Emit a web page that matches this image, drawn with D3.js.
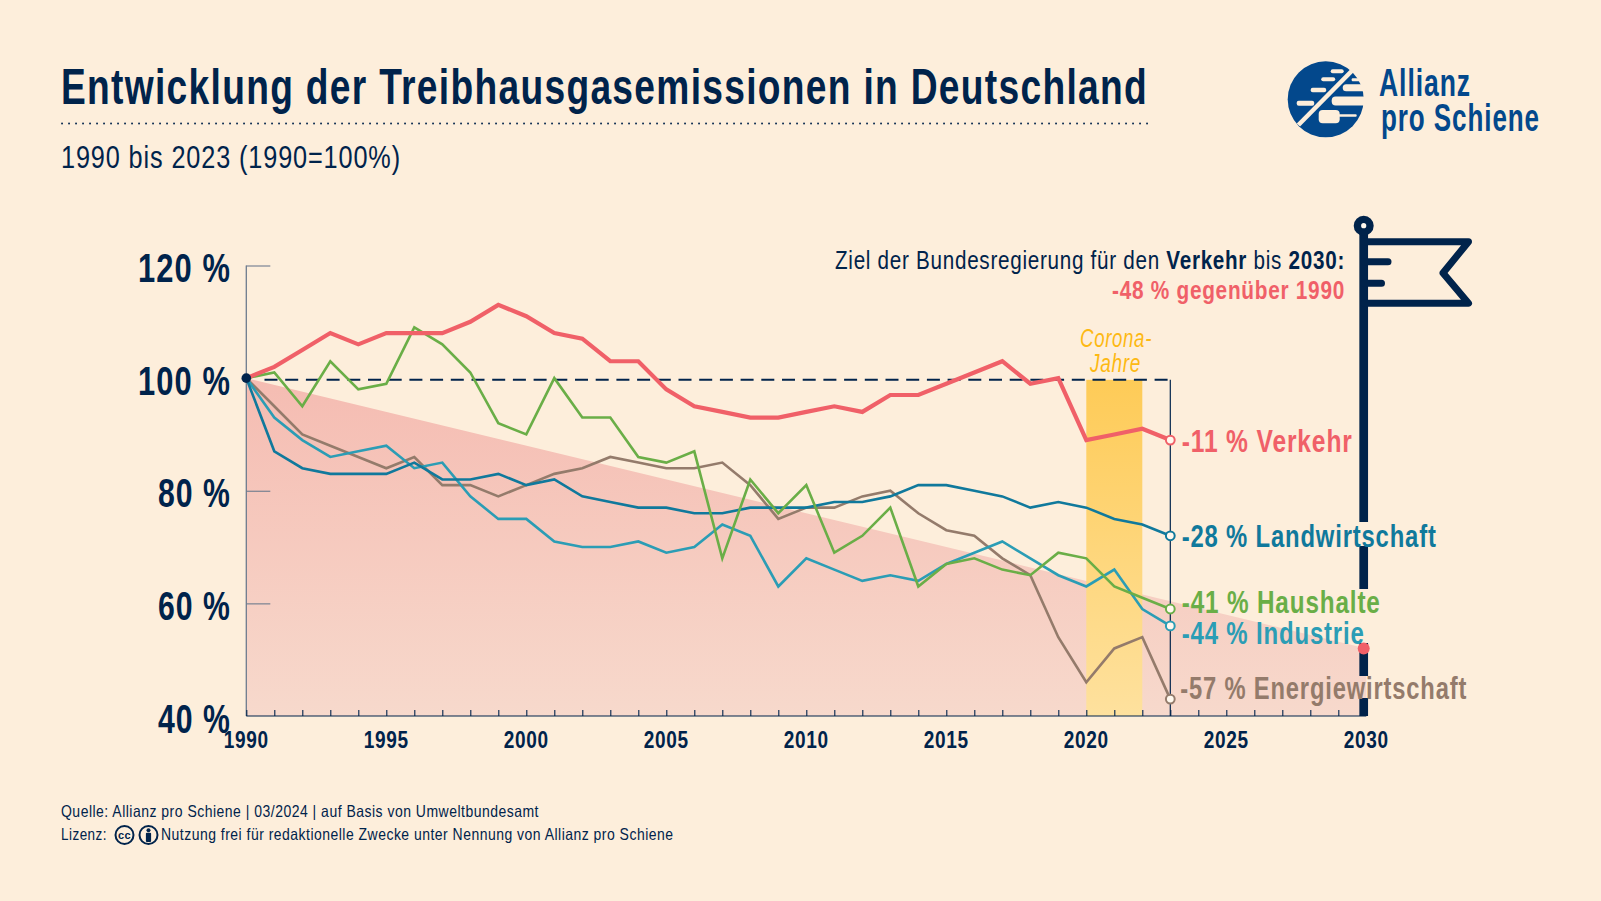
<!DOCTYPE html>
<html>
<head>
<meta charset="utf-8">
<script src="https://cdn.jsdelivr.net/npm/d3@7"></script>
<style>
  html, body { margin: 0; padding: 0; background: #fdeedb; }
  svg { display: block; }
  text { font-family: "Liberation Sans Narrow", "Liberation Sans", sans-serif; letter-spacing: 0.035em; }
</style>
</head>
<body>
<script>
//values
var years = d3.range(1990, 2024);
var verkehr = [100,102,105,108,106,108,108,108,110,113,111,108,107,103,103,98,95,94,93,93,94,95,94,97,97,99,101,103,99,100,89,90,91,89];
var haushalte = [100,101,95,103,98,99,109,106,101,92,90,100,93,93,86,85,87,68,82,76,81,69,72,77,63,67,68,66,65,69,68,63,61,59];
var landwirtschaft = [100,87,84,83,83,83,85,82,82,83,81,82,79,78,77,77,76,76,77,77,77,78,78,79,81,81,80,79,77,78,77,75,74,72];
var industrie = [100,93,89,86,87,88,84,85,79,75,75,71,70,70,71,69,70,74,72,63,68,66,64,65,64,67,69,71,68,65,63,66,59,56];
var energie = [100,95,90,88,86,84,86,81,81,79,81,83,84,86,85,84,84,85,81,75,77,77,79,80,76,73,72,68,65,54,46,52,54,43];
var targetYears = [1990, 2030];
var targetValues = [100, 52];
var yTicks = [40, 60, 80, 100, 120];
var xTicks = [1990, 1995, 2000, 2005, 2010, 2015, 2020, 2025, 2030];
var coronaYears = [2020, 2022];

var navy = "#00234b", red = "#f06068", teal = "#10799c", green = "#6aae47", cyan = "#2b9db5", brown = "#947b6b";
var amber = "#fdb913", blue = "#03488c", paper = "#fdeedb";

//name, values, colour, line width, label width, label y offset
var seriesList = [
  {name: "-57 % Energiewirtschaft", values: energie, color: brown, w: 2.6, lw: 287, dy: -10, dx: -1.5},
  {name: "-44 % Industrie", values: industrie, color: cyan, w: 2.6, lw: 183, dy: 8.5, dx: 0},
  {name: "-28 % Landwirtschaft", values: landwirtschaft, color: teal, w: 2.6, lw: 255, dy: 1, dx: 0},
  {name: "-41 % Haushalte", values: haushalte, color: green, w: 2.6, lw: 199, dy: -6, dx: 0},
  {name: "-11 % Verkehr", values: verkehr, color: red, w: 4.2, lw: 171, dy: 2, dx: 0}
];

var svg = d3.select("body").append("svg")
    .attr("width", 1601)
    .attr("height", 901)
    .style("background-color", paper);

var defs = svg.append("defs");
var areaGrad = defs.append("linearGradient").attr("id", "areaGrad")
    .attr("x1", 0).attr("x2", 0).attr("y1", 0).attr("y2", 1);
areaGrad.append("stop").attr("offset", "0%").attr("stop-color", "#f5bcb2");
areaGrad.append("stop").attr("offset", "100%").attr("stop-color", "#f7d9cc");
var coronaGrad = defs.append("linearGradient").attr("id", "coronaGrad")
    .attr("x1", 0).attr("x2", 0).attr("y1", 0).attr("y2", 1);
coronaGrad.append("stop").attr("offset", "0%").attr("stop-color", "#fecb57");
coronaGrad.append("stop").attr("offset", "100%").attr("stop-color", "#fee19e");

//scales
var x = d3.scaleLinear().domain([1990, 2030]).range([246.3, 1366.3]);
var y = d3.scaleLinear().domain([40, 120]).range([716, 265.5]);

//text with a fixed width so the narrow font fits the original lettering
function label(px, py, str, size, weight, color, anchor, width) {
  var t = svg.append("text")
      .attr("x", px).attr("y", py)
      .attr("font-size", size)
      .attr("font-weight", weight)
      .attr("fill", color)
      .attr("text-anchor", anchor || "start")
      .text(str);
  if (width) t.attr("textLength", width).attr("lengthAdjust", "spacingAndGlyphs");
  return t;
}

//title block
label(61, 104, "Entwicklung der Treibhausgasemissionen in Deutschland", 50, 700, navy, "start", 1087);
svg.append("line").attr("x1", 62).attr("x2", 1148).attr("y1", 123.5).attr("y2", 123.5)
    .attr("stroke", navy).attr("stroke-width", 1.8).attr("stroke-dasharray", "0.1 6.9").attr("stroke-linecap", "round");
label(61, 168, "1990 bis 2023 (1990=100%)", 31, 400, navy, "start", 340);

//logo
var logo = svg.append("g").attr("transform", "translate(1325.7,99.3)");
logo.append("circle").attr("r", 38).attr("fill", blue);
//stripes left of the diagonal
[[5,-30,13,4],[-4.5,-22,14,4],[-15,-11.5,15.5,4.5],[-29,1.5,17.5,5]].forEach(function(d) {
  logo.append("rect").attr("x", d[0]).attr("y", d[1]).attr("width", d[2]).attr("height", d[3])
      .attr("rx", 2).attr("fill", paper);
});
//cloud shaped cuts right of the diagonal
[[26,-21,12,3,1],[17,-15,24,7,3.5],[6,-2.7,35,9,4],[-7,10.7,21,13.3,4],[13,15,18,2.4,1]].forEach(function(d) {
  logo.append("rect").attr("x", d[0]).attr("y", d[1]).attr("width", d[2]).attr("height", d[3])
      .attr("rx", d[4]).attr("fill", paper);
});
logo.append("line").attr("x1", -27.3).attr("y1", 25.7).attr("x2", 26).attr("y2", -28.3)
    .attr("stroke", paper).attr("stroke-width", 4.5);
label(1379, 96, "Allianz", 38, 700, blue, "start", 92);
label(1381, 131, "pro Schiene", 38, 700, blue, "start", 159);

//target area
var area = d3.area()
    .x(function(d) { return x(d[0]); })
    .y0(y(40))
    .y1(function(d) { return y(d[1]); });
svg.append("path")
    .datum(d3.zip(targetYears, targetValues))
    .attr("d", area)
    .attr("fill", "url(#areaGrad)");

//corona band
svg.append("rect")
    .attr("x", x(coronaYears[0]))
    .attr("width", x(coronaYears[1]) - x(coronaYears[0]))
    .attr("y", y(99.7))
    .attr("height", y(40) - y(99.7))
    .attr("fill", "url(#coronaGrad)");
label(1116, 347, "Corona-", 25, 400, amber, "middle", 72).attr("font-style", "italic");
label(1115.5, 371.7, "Jahre", 25, 400, amber, "middle", 51).attr("font-style", "italic");

//axes
var yAxis = d3.axisLeft(y).tickValues(yTicks).tickSize(-24).tickFormat("");
var yG = svg.append("g").attr("transform", "translate(" + x(1990) + ",0)").call(yAxis);
yG.select(".domain").attr("d", "M0," + y(120) + "V" + y(40)).attr("stroke", "#6d7b8e").attr("stroke-width", 1.3);
yG.selectAll("line").attr("stroke", "#6d7b8e").attr("stroke-width", 1.1);
yG.selectAll(".tick").filter(function(d) { return d === 40 || d === 100; }).select("line").remove();

yTicks.forEach(function(d) {
  label(231, y(d) + 16.5, d + " %", 41, 700, navy, "end", d >= 100 ? 93 : 73);
});

var xAxis = d3.axisBottom(x).tickValues(d3.range(1990, 2031)).tickSize(-6).tickFormat("");
var xG = svg.append("g").attr("transform", "translate(0," + y(40) + ")").call(xAxis);
xG.select(".domain").attr("d", "M" + x(1990) + ",0H" + x(2030)).attr("stroke", navy).attr("stroke-width", 1.2);
xG.selectAll("line").attr("stroke", navy).attr("stroke-width", 1.1);
xTicks.forEach(function(d) {
  label(x(d), 747.7, d, 23, 700, navy, "middle", 45);
});

//100 % reference and 2023 line
svg.append("line")
    .attr("x1", x(1990.65)).attr("x2", x(2023))
    .attr("y1", y(99.7)).attr("y2", y(99.7))
    .attr("stroke", navy).attr("stroke-width", 2).attr("stroke-dasharray", "13 7.7");
svg.append("line")
    .attr("x1", x(2023)).attr("x2", x(2023))
    .attr("y1", y(99.7)).attr("y2", y(40))
    .attr("stroke", navy).attr("stroke-width", 1.2);

//flag on the 2030 pole, the pole stops around the labels
var poleX = x(2030) - 2.6;
var flag = svg.append("g");
[[232, 522], [546, 589], [643, 676], [698, 716]].forEach(function(d) {
  flag.append("line").attr("x1", poleX).attr("x2", poleX).attr("y1", d[0]).attr("y2", d[1])
      .attr("stroke", navy).attr("stroke-width", 8.7);
});
flag.append("circle").attr("cx", poleX).attr("cy", 225.7).attr("r", 6.3)
    .attr("fill", "#fff8ee").attr("stroke", navy).attr("stroke-width", 7.4);
flag.append("path")
    .attr("d", "M1364,241.7H1468.5L1443,273L1468.5,303.3H1364")
    .attr("fill", "none").attr("stroke", navy).attr("stroke-width", 7)
    .attr("stroke-linejoin", "round").attr("stroke-linecap", "round");
flag.append("path").attr("d", "M1364,261.7H1388M1364,283.3H1381.5")
    .attr("fill", "none").attr("stroke", navy).attr("stroke-width", 7).attr("stroke-linecap", "round");
svg.append("circle")
    .attr("cx", poleX).attr("cy", y(targetValues[1])).attr("r", 6).attr("fill", red);

//series
var line = d3.line()
    .x(function(d) { return x(d[0]); })
    .y(function(d) { return y(d[1]); });

seriesList.forEach(function(s) {
  svg.append("path")
      .datum(d3.zip(years, s.values))
      .attr("d", line)
      .attr("fill", "none")
      .attr("stroke", s.color)
      .attr("stroke-width", s.w);
  var last = s.values[s.values.length - 1];
  svg.append("circle")
      .attr("cx", x(2023)).attr("cy", y(last)).attr("r", 4.4)
      .attr("fill", "#fff8ee").attr("stroke", s.color).attr("stroke-width", 2);
  label(x(2023) + 11.4 + s.dx, y(last) + 10 + s.dy, s.name, 31, 700, s.color, "start", s.lw);
});

svg.append("circle")
    .attr("cx", x(1990)).attr("cy", y(100)).attr("r", 4.8).attr("fill", navy);

//target note
var note = label(1345, 269, "", 26, 400, navy, "end", 510);
note.append("tspan").text("Ziel der Bundesregierung für den ");
note.append("tspan").attr("font-weight", 700).text("Verkehr");
note.append("tspan").text(" bis ");
note.append("tspan").attr("font-weight", 700).text("2030:");
label(1345, 299, "-48 % gegenüber 1990", 26, 700, red, "end", 233);

//source
label(61, 817, "Quelle: Allianz pro Schiene | 03/2024 | auf Basis von Umweltbundesamt", 16.5, 400, navy, "start", 478);
label(61, 840, "Lizenz:", 16.5, 400, navy, "start", 46);
label(161, 840, "Nutzung frei für redaktionelle Zwecke unter Nennung von Allianz pro Schiene", 16.5, 400, navy, "start", 512.5);
[124.5, 148.5].forEach(function(cx, i) {
  var g = svg.append("g").attr("transform", "translate(" + cx + ",835)");
  g.append("circle").attr("r", 9).attr("fill", "none").attr("stroke", navy).attr("stroke-width", 2);
  if (i === 0) {
    g.append("text").attr("text-anchor", "middle").attr("y", 3.5).attr("font-size", 11)
        .attr("font-weight", 700).attr("fill", navy).text("cc");
  } else {
    g.append("circle").attr("cy", -4.8).attr("r", 2).attr("fill", navy);
    g.append("rect").attr("x", -2.6).attr("y", -2.2).attr("width", 5.2).attr("height", 9.2).attr("rx", 1).attr("fill", navy);
  }
});
</script>
</body>
</html>
